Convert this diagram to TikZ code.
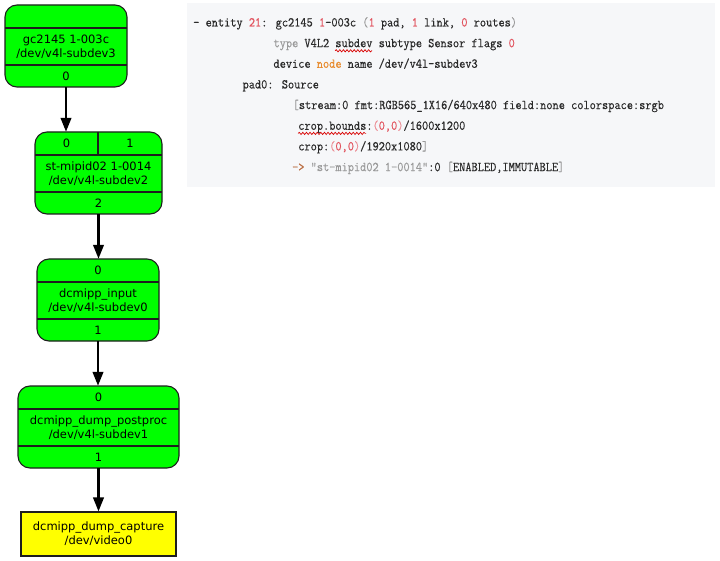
\documentclass[tikz,border=0pt]{standalone}
\usepackage{fontspec}
\newfontfamily\gvfont{DejaVu Sans}
\newfontfamily\codefont{Latin Modern Mono}[FakeStretch=0.89, FakeBold=0.35]
\usetikzlibrary{arrows.meta,decorations.pathmorphing}
\definecolor{gvgreen}{HTML}{00FF00}
\definecolor{gvyellow}{HTML}{FFFF00}
\definecolor{gvborder}{HTML}{1E1E1E}
\definecolor{panelbg}{HTML}{F6F7F9}
\definecolor{codeblack}{HTML}{2A2A2A}
\definecolor{codered}{HTML}{E2545F}
\definecolor{codepink}{HTML}{EC8A92}
\definecolor{codegray}{HTML}{9A9A9A}
\definecolor{codeorange}{HTML}{E88A2C}
\definecolor{codebrown}{HTML}{B8683A}
\newcommand{\cred}[1]{\textcolor{codered}{#1}}
\newcommand{\cgry}[1]{\textcolor{codegray}{#1}}
\begin{document}
\begin{tikzpicture}[x=1pt,y=-1pt,
  gbox/.style={draw=gvborder, fill=gvgreen, rounded corners=12pt, line width=1.1pt, inner sep=0pt},
  ybox/.style={draw=gvborder, fill=gvyellow, line width=1.1pt, inner sep=0pt, align=center,
     font=\gvfont\fontsize{11.5}{14.3}\selectfont},
  divline/.style={draw=gvborder, line width=1.1pt},
  lbl/.style={inner sep=0pt, align=center, font=\gvfont\fontsize{11.5}{14.3}\selectfont},
  pad/.style={inner sep=0pt, font=\gvfont\fontsize{11.5}{14}\selectfont},
  arr/.style={draw=black, line width=2.4pt, -{Triangle[length=14pt,width=10.5pt]}},
  codeline/.style={anchor=base west, inner sep=0pt, text=codeblack,
     font=\codefont\fontsize{13.5}{14}\selectfont},
  wavy/.style={draw=red!85!black, line width=0.7pt, decorate,
     decoration={snake, amplitude=1.1pt, segment length=3.6pt}}
]
\useasboundingbox (0,0) rectangle (720,561);
\fill[white] (0,0) rectangle (720,561);

% ---------- graph ----------
% gc2145
\node[gbox, minimum width=122pt, minimum height=82pt] (n1) at (66,46) {};
\draw[divline] (5,28) -- (127,28);
\draw[divline] (5,65) -- (127,65);
\node[lbl] (n1t) at (66,46.5) {gc2145 1-003c\\/dev/v4l-subdev3};
\node[pad, minimum width=122pt, minimum height=22pt] (n1p0) at (66,76) {0};

% st-mipid02
\node[gbox, minimum width=127pt, minimum height=82pt] (n2) at (98.5,173) {};
\draw[divline] (35,155) -- (162,155);
\draw[divline] (35,192) -- (162,192);
\draw[divline] (98,132) -- (98,155);
\node[pad, minimum width=63pt, minimum height=23pt] (n2p0) at (66.5,143.5) {0};
\node[pad, minimum width=64pt, minimum height=23pt] (n2p1) at (130,143.5) {1};
\node[lbl] (n2t) at (98.5,173.5) {st-mipid02 1-0014\\/dev/v4l-subdev2};
\node[pad, minimum width=127pt, minimum height=22pt] (n2p2) at (98.5,203) {2};

% dcmipp_input
\node[gbox, minimum width=122pt, minimum height=82pt] (n3) at (98,300) {};
\draw[divline] (37,282) -- (159,282);
\draw[divline] (37,319) -- (159,319);
\node[pad, minimum width=122pt, minimum height=23pt] (n3p0) at (98,270.5) {0};
\node[lbl] (n3t) at (98,300.5) {dcmipp\_input\\/dev/v4l-subdev0};
\node[pad, minimum width=122pt, minimum height=22pt] (n3p1) at (98,330) {1};

% dcmipp_dump_postproc
\node[gbox, minimum width=161pt, minimum height=82pt] (n4) at (98.5,427) {};
\draw[divline] (18,409) -- (179,409);
\draw[divline] (18,446) -- (179,446);
\node[pad, minimum width=161pt, minimum height=23pt] (n4p0) at (98.5,397.5) {0};
\node[lbl] (n4t) at (98.5,427.5) {dcmipp\_dump\_postproc\\/dev/v4l-subdev1};
\node[pad, minimum width=161pt, minimum height=22pt] (n4p1) at (98.5,457) {1};

% dcmipp_dump_capture
\node[ybox, minimum width=155pt, minimum height=44pt] (n5) at (98.5,534)
  {dcmipp\_dump\_capture\\/dev/video0};

% connectors
\draw[arr] (n1p0.south) -- (n1p0.south |- n2p0.north);
\draw[arr] (n2p2.south) -- (n2p2.south |- n3p0.north);
\draw[arr] (n3p1.south) -- (n3p1.south |- n4p0.north);
\draw[arr] (n4p1.south) -- (n4p1.south |- n5.north);

% ---------- text panel ----------
\fill[panelbg] (187,3) rectangle (715,187);

\node[codeline] (c1) at (193,26.5)
  {- entity \cred{21}: gc2145 \cred{1}-003c \cgry{(}\cred{1} pad, \cred{1} link, \cred{0} routes\cgry{)}};
\node[codeline] (c2) at (273.3,47.2)
  {\cgry{type} V4L2 subdev subtype Sensor flags \cred{0}};
\node[codeline] (c3) at (273.3,67.8)
  {device \textcolor{codeorange}{node} name /dev/v4l-subdev3};
\node[codeline] (c4) at (242.4,88.5) {pad0: Source};
\node[codeline] (c5) at (292.5,109.1)
  {\cgry{[}stream:0 fmt:RGB565\_1X16/640x480 field:none colorspace:srgb};
\node[codeline] (c6) at (298.1,129.8)
  {crop.bounds:\textcolor{codepink}{(}\cred{0,0}\textcolor{codepink}{)}/1600x1200};
\node[codeline] (c7) at (298.1,150.4)
  {crop:\textcolor{codepink}{(}\cred{0,0}\textcolor{codepink}{)}/1920x1080\cgry{]}};
\node[codeline] (c8) at (291.9,171.1)
  {\textcolor{codebrown}{->} \cgry{"st-mipid02 1-0014"}:0 \cgry{[}ENABLED,IMMUTABLE\cgry{]}};

% spell-check underlines
\draw[wavy] (335.1,50.8) -- (372.2,50.8);
\draw[wavy] (298.1,133.4) -- (366.1,133.4);
\end{tikzpicture}
\end{document}
